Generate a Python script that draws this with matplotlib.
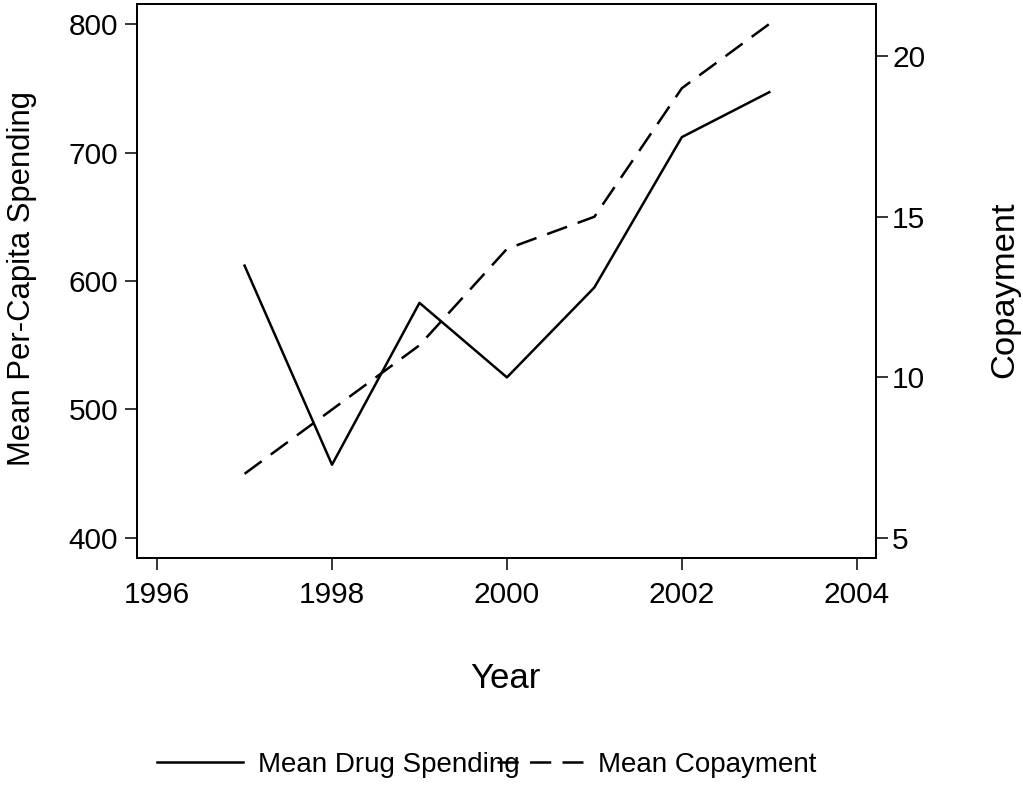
import matplotlib
matplotlib.use('Agg')
import matplotlib.pyplot as plt

plt.rcParams['font.family'] = ['Liberation Sans', 'DejaVu Sans']

# Data
years = [1997, 1998, 1999, 2000, 2001, 2002, 2003]
drug_spending = [612, 457, 583, 525, 595, 712, 747]
copayment = [7, 9, 11, 14, 15, 19, 21]

left_ticks = [400, 500, 600, 700, 800]
right_ticks = [5, 10, 15, 20]
year_ticks = [1996, 1998, 2000, 2002, 2004]

fig = plt.figure(figsize=(10.23, 8.08), dpi=100)
ax = fig.add_axes([0.1339, 0.3094, 0.7224, 0.6856])
ax2 = ax.twinx()

line1, = ax.plot(years, drug_spending, color='black', linewidth=1.8, label='Mean Drug Spending')
line2, = ax2.plot(years, copayment, color='black', linewidth=1.8, dashes=(8.5, 4.5), label='Mean Copayment')

ax.set_xlim(1995.77, 2004.22)
ax.set_ylim(384.4, 815.6)
ax2.set_ylim(4.38, 21.62)

ax.set_xticks(year_ticks)
ax.set_yticks(left_ticks)
ax2.set_yticks(right_ticks)

for a in (ax, ax2):
    for sp in a.spines.values():
        sp.set_linewidth(1.3)
ax.tick_params(axis='both', direction='out', length=8.6, width=1.1, labelsize=21.5)
ax.tick_params(axis='y', pad=5)
ax.tick_params(axis='x', pad=8)
ax2.tick_params(axis='y', direction='out', length=8.6, width=1.1, labelsize=21.5, pad=3)

ax.set_xlabel('Year', fontsize=25)
ax.xaxis.set_label_coords(0.499, -0.218)
ax.xaxis.label.set_va('center')

ax.set_ylabel('Mean Per-Capita Spending', fontsize=22.3)
ax.yaxis.set_label_coords(-0.1556, 0.505)
ax.yaxis.label.set_va('center')

ax2.set_ylabel('Copayment', fontsize=24.8)
ax2.yaxis.set_label_coords(1.1746, 0.484)
ax2.yaxis.label.set_va('center')

# two legend keys placed separately, the first label runs into the second key
leg_kw = dict(frameon=False, fontsize=20, handlelength=3.1, handletextpad=0.55,
              borderpad=0, borderaxespad=0)
fig.legend(handles=[line1], loc='center left', bbox_to_anchor=(157 / 1023, 0.053), **leg_kw)
fig.legend(handles=[line2], loc='center left', bbox_to_anchor=(497 / 1023, 0.053), **leg_kw)

fig.savefig('out.png', dpi=100)
